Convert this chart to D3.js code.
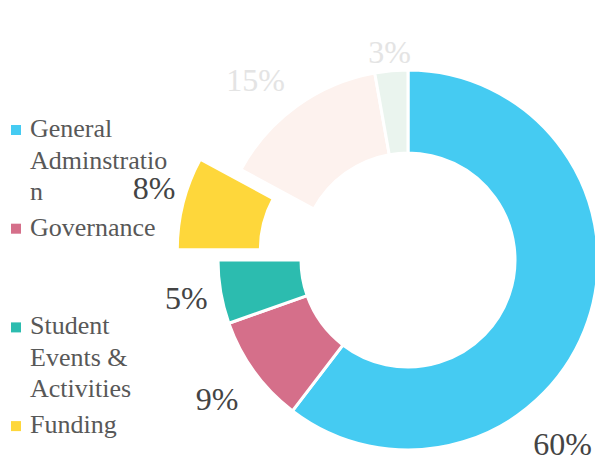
<!DOCTYPE html>
<html><head><meta charset="utf-8">
<script src="https://cdn.jsdelivr.net/npm/d3@7"></script>
<style>html,body{margin:0;padding:0;background:#fff;} svg{display:block;}</style>
</head><body><svg id="c" width="595" height="460"></svg>
<script>
// ---- data ----
const categories = ["General Adminstration", "Governance", "Student Events & Activities", "Funding", "Other (faded) 1", "Other (faded) 2"];
const values = [60.4, 9.2, 5.4, 7.9, 14.3, 2.8];
const pctLabels = ["60%", "9%", "5%", "8%", "15%", "3%"];
const legendLines = [["General", "Adminstratio", "n"], ["Governance"], ["Student", "Events &", "Activities"], ["Funding"]];

// ---- styling / layout ----
const colors = ["#45CBF2", "#D56F8A", "#2CBCAF", "#FED73B", "#FDF2EE", "#EAF4EE"];
const labelColors = ["#444", "#444", "#444", "#444", "#e4e4e4", "#e4e4e4"];
const explode = [0, 0, 0, 42, 0, 0];
const labelDist = [240, 236, 225, 222, 236, 209];
const labelNudgeDeg = [0, 0, 0, 2, -4.4, 0];
const W = 595, H = 460, cx = 408, cy = 260, R = 190, r = 107;
const FONT = "'Liberation Serif', 'Times New Roman', serif";

const svg = d3.select("#c");
svg.append("rect").attr("width", W).attr("height", H).attr("fill", "#fff");

const pie = d3.pie().sort(null).value(d => d);
const arcs = pie(values);
const arc = d3.arc().innerRadius(r).outerRadius(R);

const g = svg.append("g").attr("transform", `translate(${cx},${cy})`);
const dir = a => [Math.sin(a), -Math.cos(a)];

g.selectAll("path.slice").data(arcs).join("path")
  .attr("class", "slice")
  .attr("d", arc)
  .attr("fill", (d, i) => colors[i])
  .attr("stroke", "#fff")
  .attr("stroke-width", 3)
  .attr("transform", (d, i) => {
    const m = (d.startAngle + d.endAngle) / 2, u = dir(m);
    return `translate(${u[0] * explode[i]},${u[1] * explode[i]})`;
  });

// percentage labels
arcs.forEach((d, i) => {
  const t = g.append("text")
    .attr("font-family", FONT).attr("font-size", 32)
    .attr("fill", labelColors[i])
    .attr("text-anchor", "middle")
    .text(pctLabels[i]);
  const w = t.node().getComputedTextLength();
  const m = (d.startAngle + d.endAngle) / 2;
  const ex = dir(m);
  const u = dir(m + labelNudgeDeg[i] * Math.PI / 180);
  const dist = labelDist[i];
  let x = u[0] * dist, y = u[1] * dist;
  const maxX = W - cx - w / 2 - 3;
  if (x > maxX) {
    x = maxX;
    y = Math.sign(y || 1) * Math.sqrt(Math.max(0, dist * dist - x * x));
  }
  x += ex[0] * explode[i];
  y += ex[1] * explode[i];
  t.attr("x", x).attr("y", y + 11);
});

// legend
const lg = svg.append("g");
const baseY = 137, rowStep = 98.7, lineH = 31.5;
legendLines.forEach((lines, i) => {
  const y0 = baseY + i * rowStep;
  lg.append("rect").attr("x", 11).attr("y", y0 - 12).attr("width", 10).attr("height", 10).attr("fill", colors[i]);
  lines.forEach((ln, j) => {
    lg.append("text").attr("x", 30).attr("y", y0 + j * lineH)
      .attr("font-family", FONT).attr("font-size", 26).attr("fill", "#585858")
      .text(ln);
  });
});
</script>
</body></html>
